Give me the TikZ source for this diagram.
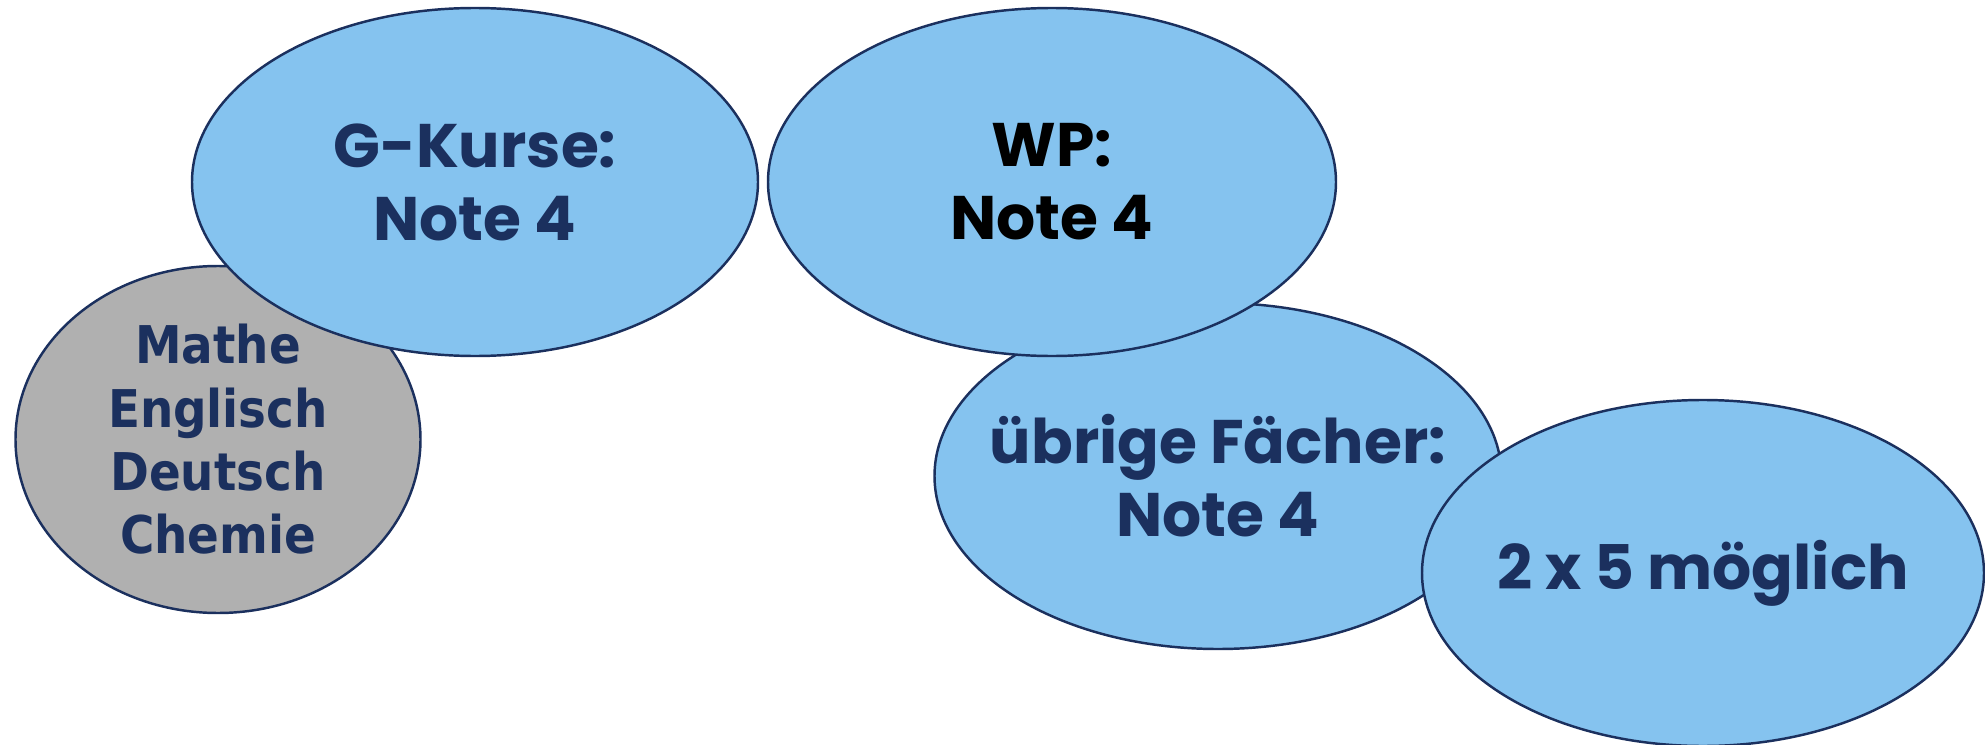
\documentclass[tikz,border=0pt]{standalone}
\usepackage{fontspec}
\setmainfont{Poppins}
\newfontfamily\grayfont{DejaVu Sans Condensed}
\usetikzlibrary{shapes.geometric}
\tikzset{
  blob/.style={ellipse,draw=bordercolor,line width=0.7pt,fill=bluefill,inner sep=0pt},
  bluetext/.style={font=\fontsize{17.5}{20.8}\selectfont\bfseries,text=navytext,align=center},
  graytext/.style={font=\grayfont\fontsize{14.8}{18}\selectfont\bfseries,text=navytext,align=center}
}
\begin{document}
\begin{tikzpicture}
\definecolor{bluefill}{RGB}{133,195,239}
\definecolor{grayfill}{RGB}{176,176,176}
\definecolor{bordercolor}{RGB}{27,48,94}
\definecolor{navytext}{RGB}{27,48,94}
\useasboundingbox (0,0) rectangle (19.85,7.44);
% ellipses, back to front
\node (kern) [blob,fill=grayfill,minimum width=4.05cm,minimum height=3.47cm] at (2.18,3.045) {};
\node (gkurse) [blob,minimum width=5.66cm,minimum height=3.48cm] at (4.75,5.62) {};
\node (rest) [blob,minimum width=5.67cm,minimum height=3.46cm] at (12.18,2.68) {};
\node (wp) [blob,minimum width=5.68cm,minimum height=3.48cm] at (10.52,5.62) {};
\node (fuenf) [blob,minimum width=5.62cm,minimum height=3.46cm] at (17.03,1.71) {};
% texts
\node (kerntext) [graytext] at (kern) {Mathe\\Englisch\\Deutsch\\Chemie};
\node (gkursetext) [bluetext] at (gkurse) {G-Kurse:\\Note 4};
\node (wptext) [bluetext,text=black] at (wp) {WP:\\Note 4};
\node (resttext) [bluetext] at (rest) {übrige Fächer:\\Note 4};
\node (fuenftext) [bluetext] at (fuenf) {2 x 5 möglich};
\end{tikzpicture}
\end{document}
